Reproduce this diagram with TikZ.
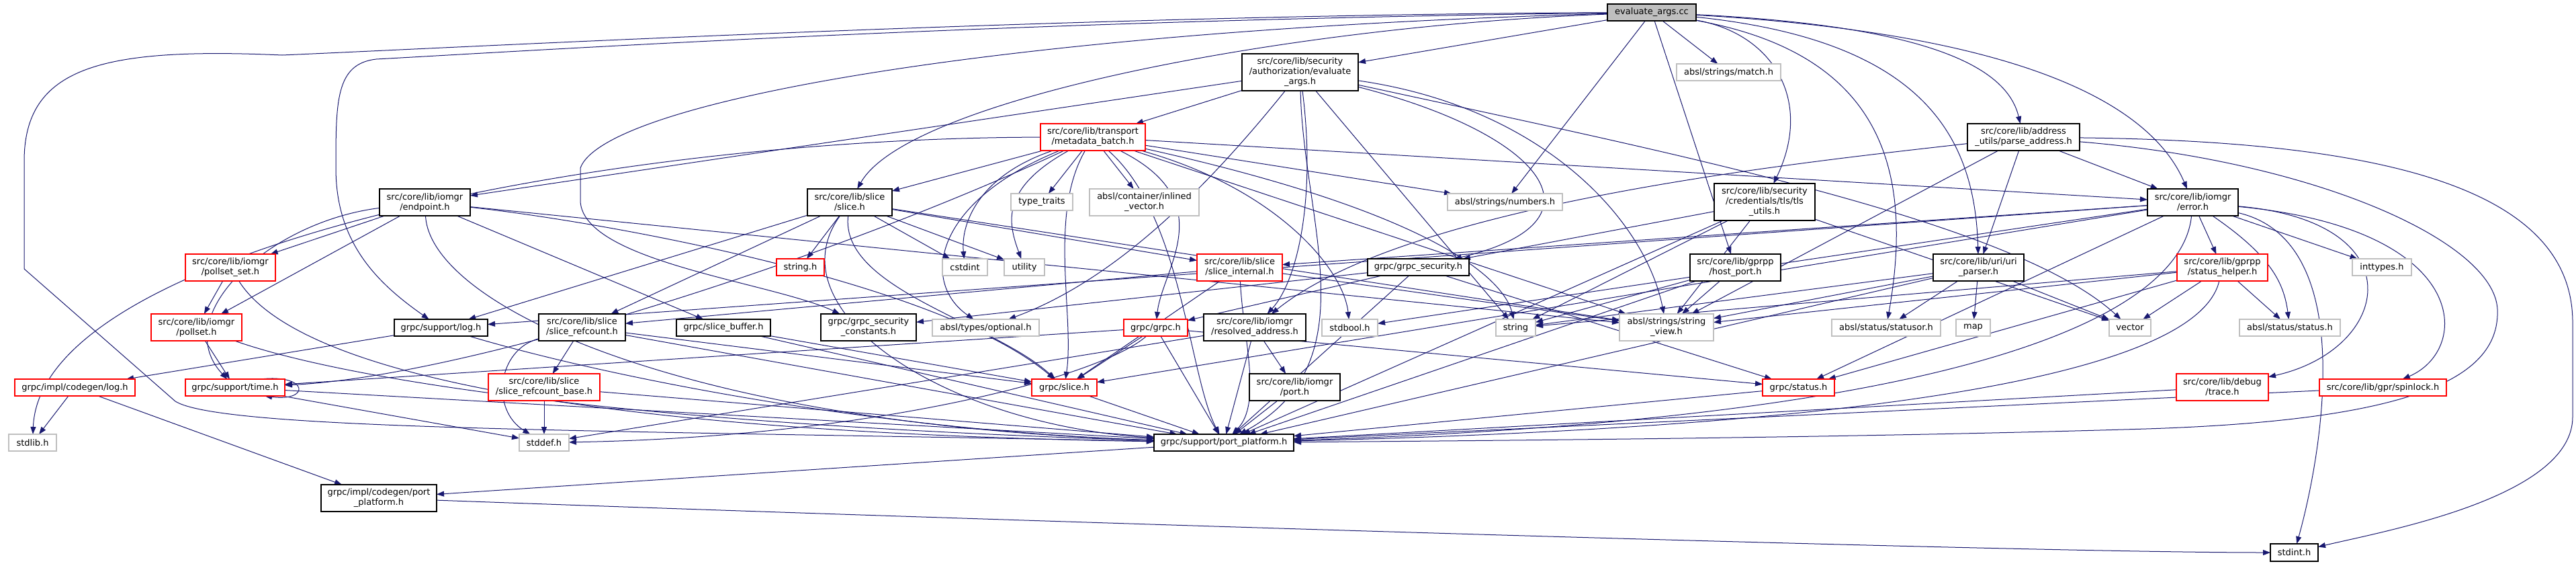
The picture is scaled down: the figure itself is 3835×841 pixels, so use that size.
\documentclass[tikz,border=0pt]{standalone}
\usepackage{fontspec}
\setmainfont{DejaVu Sans}
\usetikzlibrary{arrows.meta}
\definecolor{edgec}{HTML}{191970}
\definecolor{greyb}{HTML}{BFBFBF}
\definecolor{redb}{HTML}{FF0000}
\pgfdeclarelayer{bg}
\pgfdeclarelayer{paper}
\pgfsetlayers{paper,bg,main}
\newcommand{\mkbox}[7]{\node[#1, minimum width={(#4)-(#3)}, minimum height={(#6)-(#5)}] (#2) at ({((#3)+(#4))/2},{((#5)+(#6))/2}) {#7};}
\begin{document}
\begin{tikzpicture}[x=1pt,y=-1pt,
  font=\fontsize{13}{15}\selectfont,
  box/.style={draw, rectangle, fill=white, inner sep=0pt, outer sep=0pt, align=center, line width=1.1pt, text=black},
  blk/.style={box, draw=black},
  gry/.style={box, draw=greyb},
  rbox/.style={box, draw=redb},
  rootb/.style={box, draw=black, fill=greyb},
  e/.style={draw=edgec, line width=1pt, -{Triangle[length=11pt,width=8pt]}}]
\begin{pgfonlayer}{paper}
\fill[white] (0,0) rectangle (3835,841);
\end{pgfonlayer}
\useasboundingbox (0,0) rectangle (3835,841);

\mkbox{rootb}{root}{2393}{2525}{6}{31}{evaluate\_args.cc}
\mkbox{blk}{eah}{1849}{2022}{80}{135}{src/core/lib/security\\/authorization/evaluate\\\_args.h}
\mkbox{gry}{match}{2496}{2651}{95}{120}{absl/strings/match.h}
\mkbox{rbox}{mb}{1549}{1705}{184}{224}{src/core/lib/transport\\/metadata\_batch.h}
\mkbox{gry}{numbers}{2155}{2326}{288}{313}{absl/strings/numbers.h}
\mkbox{blk}{tls}{2552}{2702}{273}{328}{src/core/lib/security\\/credentials/tls/tls\\\_utils.h}
\mkbox{blk}{pa}{2929}{3096}{184}{224}{src/core/lib/address\\\_utils/parse\_address.h}
\mkbox{blk}{endpoint}{565}{700}{281}{321}{src/core/lib/iomgr\\/endpoint.h}
\mkbox{blk}{cslice}{1202}{1328}{281}{321}{src/core/lib/slice\\/slice.h}
\mkbox{gry}{typetraits}{1505}{1597}{288}{313}{type\_traits}
\mkbox{gry}{inlvec}{1622}{1785}{281}{321}{absl/container/inlined\\\_vector.h}
\mkbox{gry}{cstdint}{1403}{1470}{385}{410}{cstdint}
\mkbox{gry}{utility}{1495}{1555}{385}{410}{utility}
\mkbox{rbox}{sint}{1782}{1909}{378}{418}{src/core/lib/slice\\/slice\_internal.h}
\mkbox{rbox}{stringh}{1156}{1227}{385}{410}{string.h}
\mkbox{rbox}{pss}{276}{410}{378}{418}{src/core/lib/iomgr\\/pollset\_set.h}
\mkbox{blk}{gsec}{2036}{2187}{385}{410}{grpc/grpc\_security.h}
\mkbox{blk}{hostport}{2516}{2651}{378}{418}{src/core/lib/gprpp\\/host\_port.h}
\mkbox{blk}{uri}{2878}{3013}{378}{418}{src/core/lib/uri/uri\\\_parser.h}
\mkbox{blk}{error}{3197}{3332}{281}{321}{src/core/lib/iomgr\\/error.h}
\mkbox{rbox}{statushelper}{3241}{3376}{378}{418}{src/core/lib/gprpp\\/status\_helper.h}
\mkbox{gry}{inttypes}{3502}{3590}{385}{410}{inttypes.h}
\mkbox{rbox}{pollset}{225}{360}{467}{507}{src/core/lib/iomgr\\/pollset.h}
\mkbox{rbox}{clog}{22}{201}{564}{589}{grpc/impl/codegen/log.h}
\mkbox{rbox}{time}{276}{424}{564}{589}{grpc/support/time.h}
\mkbox{gry}{stdlib}{13}{84}{646}{671}{stdlib.h}
\mkbox{blk}{cpp}{478}{650}{721}{761}{grpc/impl/codegen/port\\\_platform.h}
\mkbox{blk}{slog}{587}{726}{475}{500}{grpc/support/log.h}
\mkbox{blk}{srefc}{802}{931}{467}{507}{src/core/lib/slice\\/slice\_refcount.h}
\mkbox{blk}{sbuf}{1007}{1147}{475}{500}{grpc/slice\_buffer.h}
\mkbox{blk}{gsc}{1222}{1364}{467}{507}{grpc/grpc\_security\\\_constants.h}
\mkbox{rbox}{srefb}{727}{893}{556}{596}{src/core/lib/slice\\/slice\_refcount\_base.h}
\mkbox{gry}{stddef}{773}{847}{646}{671}{stddef.h}
\mkbox{gry}{optional}{1388}{1547}{475}{500}{absl/types/optional.h}
\mkbox{rbox}{gslice}{1536}{1633}{564}{589}{grpc/slice.h}
\mkbox{rbox}{grpch}{1673}{1768}{475}{500}{grpc/grpc.h}
\mkbox{blk}{resaddr}{1792}{1944}{467}{507}{src/core/lib/iomgr\\/resolved\_address.h}
\mkbox{blk}{port}{1860}{1995}{556}{596}{src/core/lib/iomgr\\/port.h}
\mkbox{blk}{spp}{1718}{1926}{646}{671}{grpc/support/port\_platform.h}
\mkbox{gry}{stdbool}{1968}{2051}{475}{500}{stdbool.h}
\mkbox{gry}{string}{2227}{2286}{475}{500}{string}
\mkbox{gry}{sview}{2411}{2551}{467}{507}{absl/strings/string\\\_view.h}
\mkbox{rbox}{gstatus}{2624}{2731}{564}{589}{grpc/status.h}
\mkbox{gry}{statusor}{2727}{2889}{475}{500}{absl/status/statusor.h}
\mkbox{gry}{map}{2912}{2963}{475}{500}{map}
\mkbox{gry}{vector}{3140}{3202}{475}{500}{vector}
\mkbox{gry}{status}{3334}{3484}{475}{500}{absl/status/status.h}
\mkbox{rbox}{trace}{3240}{3377}{556}{596}{src/core/lib/debug\\/trace.h}
\mkbox{rbox}{spinlock}{3453}{3642}{564}{589}{src/core/lib/gpr/spinlock.h}
\mkbox{blk}{stdint}{3380}{3451}{809}{835}{stdint.h}

\begin{pgfonlayer}{bg}
% root
\draw[e] (root) -- (eah);
\draw[e] (root) -- (match);
\draw[e] (root) -- (numbers);
\draw[e] (root) .. controls (2900,40) and (2990,110) .. (pa);
\draw[e] (root) -- (hostport);
\draw[e] (root) .. controls (2640,50) and (2700,150) .. (tls);
\draw[e] (root) .. controls (2860,60) and (2940,200) .. (uri);
\draw[e] (root) .. controls (3000,50) and (3200,150) .. (error);
\draw[e] (root) .. controls (1900,40) and (1350,150) .. (cslice);
\draw[e] (root) .. controls (1600,22) and (700,70) .. (420,82) .. controls (150,70) and (36,100) .. (36,240) -- (36,400) -- (261,597) .. controls (330,640) and (900,640) .. (spp);
\draw[e] (root) .. controls (1500,30) and (800,75) .. (560,88) .. controls (500,95) and (500,150) .. (500,250) .. controls (500,360) and (560,420) .. (slog);
\draw[e] (root) .. controls (2800,80) and (2850,250) .. (statusor);
\draw[e] (root) .. controls (1500,45) and (900,150) .. (864,250) -- (864,300) .. controls (870,390) and (1150,420) .. (gsc);
% eah
\draw[e] (eah) -- (mb);
\draw[e] (eah) -- (endpoint);
\draw[e] (eah) .. controls (1960,300) and (1930,420) .. (resaddr);
\draw[e] (eah) .. controls (2300,200) and (2400,330) .. (gsec);
\draw[e] (eah) .. controls (1940,330) and (2040,540) .. (spp);
\draw[e] (eah) -- (string);
\draw[e] (eah) .. controls (2500,230) and (3000,330) .. (vector);
\draw[e] (eah) .. controls (2300,160) and (2450,330) .. (sview);
\draw[e] (eah) .. controls (1780,300) and (1650,420) .. (optional);
% mb
\draw[e] (mb) -- (cslice);
\draw[e] (mb) -- (typetraits);
\draw[e] (mb) -- (inlvec);
\draw[e] (mb) .. controls (1460,260) and (1430,330) .. (cstdint);
\draw[e] (mb) .. controls (1490,280) and (1500,330) .. (utility);
\draw[e] (mb) .. controls (900,205) and (60,370) .. (stdlib);
\draw[e] (mb) -- (numbers);
\draw[e] (mb) .. controls (1820,300) and (1730,400) .. (grpch);
\draw[e] (mb) .. controls (1560,320) and (1600,470) .. (gslice);
\draw[e] (mb) .. controls (1250,380) and (700,560) .. (time);
\draw[e] (mb) .. controls (1390,300) and (1370,420) .. (optional);
\draw[e] (mb) -- (error);
\draw[e] (mb) -- (sview);
\draw[e] (mb) .. controls (2150,320) and (2240,420) .. (string);
\draw[e] (mb) .. controls (1760,320) and (1770,560) .. (spp);
\draw[e] (mb) .. controls (1900,280) and (2000,400) .. (stdbool);
% cslice
\draw[e] (cslice) -- (stringh);
\draw[e] (cslice) -- (cstdint);
\draw[e] (cslice) -- (utility);
\draw[e] (cslice) -- (sint);
\draw[e] (cslice) -- (srefc);
\draw[e] (cslice) -- (slog);
\draw[e] (cslice) .. controls (1250,430) and (1480,480) .. (gslice);
\draw[e] (cslice) -- (sview);
\draw[e] (cslice) .. controls (1150,460) and (1400,630) .. (spp);
% endpoint
\draw[e] (endpoint) -- (pss);
\draw[e] (endpoint) -- (pollset);
\draw[e] (endpoint) -- (sbuf);
\draw[e] (endpoint) .. controls (400,330) and (250,470) .. (time);
\draw[e] (endpoint) .. controls (900,330) and (1400,420) .. (gslice);
\draw[e] (endpoint) .. controls (640,450) and (1000,630) .. (spp);
\draw[e] (endpoint) -- (sview);
% pss, pollset, slog, clog
\draw[e] (pss) -- (pollset);
\draw[e] (pss) .. controls (420,520) and (700,640) .. (spp);
\draw[e] (pollset) -- (time);
\draw[e] (pollset) .. controls (500,560) and (900,630) .. (spp);
\draw[e] (slog) -- (clog);
\draw[e] (slog) .. controls (900,560) and (1300,640) .. (spp);
\draw[e] (clog) -- (stdlib);
\draw[e] (clog) -- (cpp);
\draw[e] (cpp) .. controls (1500,775) and (3000,822) .. (stdint);
\draw[e] (spp) -- (cpp);
% time
\draw[e] (time) -- (spp);
\draw[e] (time) -- (stddef);
\draw[e] ([xshift=-36pt]time.north east) .. controls (460,556) and (462,598) .. ([xshift=-30pt]time.south east);
% slice refcount
\draw[e] (srefc) -- (srefb);
\draw[e] (srefc) .. controls (740,520) and (730,610) .. (stddef);
\draw[e] (srefc) -- (spp);
\draw[e] (srefc) -- (gslice);
\draw[e] (srefb) -- (stddef);
\draw[e] (srefb) -- (spp);
\draw[e] (sbuf) -- (gslice);
\draw[e] (sbuf) -- (spp);
% gsec, grpc
\draw[e] (gsec) -- (grpch);
\draw[e] (gsec) -- (gsc);
\draw[e] (gsec) -- (gstatus);
\draw[e] (gsec) -- (spp);
\draw[e] (gslice) -- (spp);
\draw[e] (grpch) -- (gslice);
\draw[e] (grpch) -- (spp);
\draw[e] (grpch) -- (gstatus);
\draw[e] (grpch) -- (time);
\draw[e] (grpch) .. controls (1640,560) and (1300,650) .. (stddef);
% resolved address, port
\draw[e] (resaddr) -- (port);
\draw[e] (resaddr) -- (spp);
\draw[e] (resaddr) -- (stddef);
\draw[e] (port) -- (spp);
% parse address
\draw[e] (pa) -- (uri);
\draw[e] (pa) -- (error);
\draw[e] (pa) .. controls (2700,240) and (2100,300) .. (resaddr);
\draw[e] (pa) -- (sview);
\draw[e] (pa) .. controls (3550,210) and (3830,280) .. (3830,480) -- (3830,620) .. controls (3830,740) and (3550,790) .. (stdint);
\draw[e] (pa) .. controls (3450,240) and (3713,360) .. (3718,460) .. controls (3722,560) and (3600,625) .. (3195,638) .. controls (2800,650) and (2300,655) .. (spp);
% host port
\draw[e] (hostport) -- (sview);
\draw[e] (hostport) -- (string);
\draw[e] (hostport) -- (spp);
% uri
\draw[e] (uri) -- (statusor);
\draw[e] (uri) -- (map);
\draw[e] (uri) -- (vector);
\draw[e] (uri) -- (sview);
\draw[e] (uri) -- (string);
\draw[e] (uri) -- (spp);
% tls
\draw[e] (tls) -- (gsec);
\draw[e] (tls) -- (sview);
\draw[e] (tls) -- (string);
\draw[e] (tls) -- (vector);
\draw[e] (tls) -- (spp);
% error
\draw[e] (error) -- (statushelper);
\draw[e] (error) -- (inttypes);
\draw[e] (error) .. controls (3380,380) and (3400,420) .. (status);
\draw[e] (error) .. controls (3600,330) and (3560,520) .. (trace);
\draw[e] (error) .. controls (3680,340) and (3680,520) .. (spinlock);
\draw[e] (error) -- (gslice);
\draw[e] (error) -- (gstatus);
\draw[e] (error) -- (slog);
\draw[e] (error) -- (stdbool);
\draw[e] (error) -- (sint);
\draw[e] (error) .. controls (3250,450) and (3000,620) .. (spp);
\draw[e] (error) .. controls (3520,360) and (3450,700) .. (stdint);
% status helper
\draw[e] (statushelper) -- (status);
\draw[e] (statushelper) -- (vector);
\draw[e] (statushelper) -- (string);
\draw[e] (statushelper) -- (sview);
\draw[e] (statushelper) -- (gstatus);
\draw[e] (statushelper) .. controls (3280,520) and (3000,630) .. (spp);
% others
\draw[e] (trace) -- (spp);
\draw[e] (spinlock) -- (spp);
\draw[e] (gstatus) -- (spp);
\draw[e] (sint) -- (gslice);
\draw[e] (sint) -- (srefc);
\draw[e] (sint) .. controls (1850,500) and (1880,600) .. (spp);
\draw[e] (sint) -- (sview);
\end{pgfonlayer}
\end{tikzpicture}
\end{document}
